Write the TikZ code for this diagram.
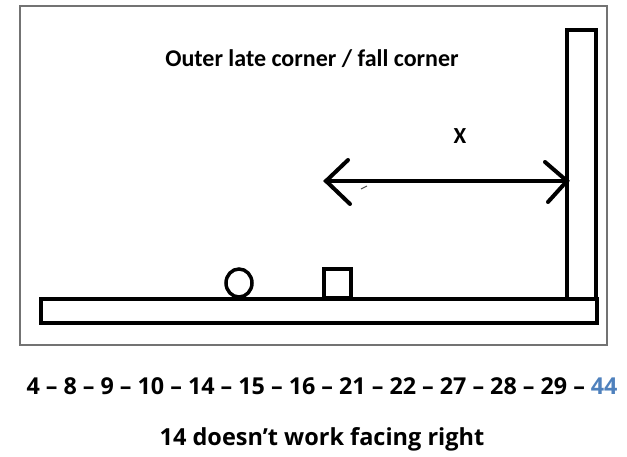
\documentclass[tikz,border=0pt]{standalone}
\usepackage{fontspec}
\setmainfont{Open Sans}
\newfontfamily\titlefont{Carlito}
\definecolor{numblue}{HTML}{4F81BD}
\begin{document}
\begin{tikzpicture}[x=1pt,y=-1pt,
  frame/.style={draw=black!55,line width=1.2pt},
  solid/.style={draw=black,line width=4pt},
  lbl/.style={inner sep=0pt,anchor=center}]
\useasboundingbox (0,0) rectangle (627,457);
\draw[frame] (20,6) rectangle (607,345);
% floor and wall
\draw[solid] (41,299) rectangle (597,323);
\draw[solid] (567,30) rectangle (596,299);
% circle and square
\draw[solid,line width=3.5pt] (239,283) ellipse (13pt and 14pt);
\draw[solid,line width=3.5pt] (324,269) rectangle (351,298);
% double arrow
\coordinate (aL) at (326,181);
\coordinate (aR) at (567,181);
\draw[solid,line cap=round] (aL) -- (aR);
\draw[solid,line cap=round] (348,160) -- (aL) -- (350,204);
\draw[solid,line cap=round] (545,162) -- (aR) -- (548,202);
\draw[black!70,line width=1pt] (361,189) -- (367,186);
% texts
\node[lbl,font=\titlefont\bfseries\fontsize{24}{28}\selectfont] (title) at (312,59) {Outer late corner / fall corner};
\node[lbl,font=\titlefont\bfseries\fontsize{23}{26}\selectfont] (x) at (460,136) {X};
\node[lbl,font=\bfseries\fontsize{23.3}{26}\selectfont] (nums) at (322,386) {4 – 8 – 9 – 10 – 14 – 15 – 16 – 21 – 22 – 27 – 28 – 29 – \textcolor{numblue}{44}};
\node[lbl,font=\bfseries\fontsize{23.5}{26}\selectfont] (note) at (322,439) {14 doesn’t work facing right};
\end{tikzpicture}
\end{document}
